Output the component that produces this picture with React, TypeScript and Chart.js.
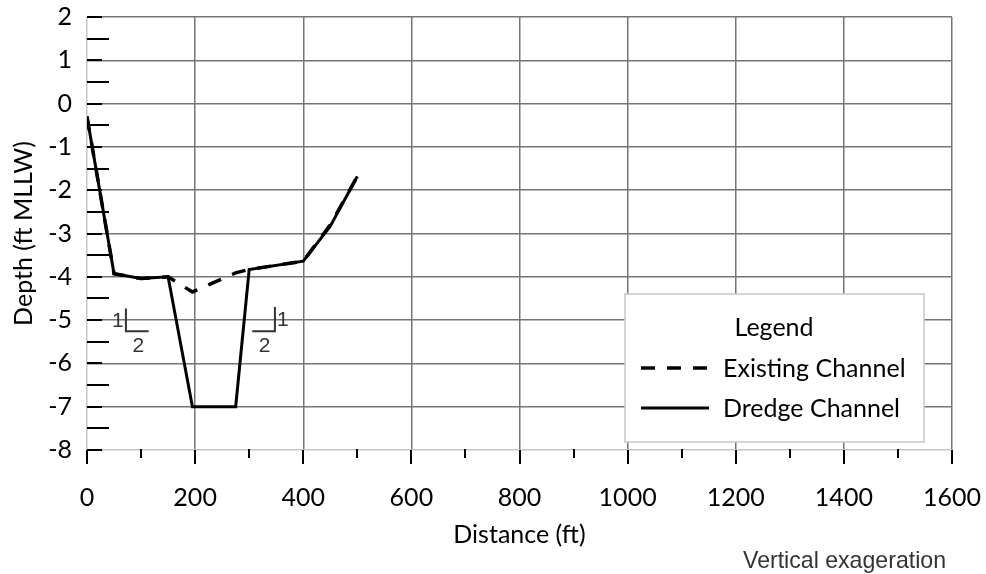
import React, { useEffect, useRef } from "react";
import { Chart, registerables } from "chart.js";

Chart.register(...registerables);

// ---- data ----
const existingDistance = [0, 50, 100, 150, 195, 275, 300, 400, 450, 500];
const existingDepth = [-0.3, -3.93, -4.04, -4.0, -4.35, -3.91, -3.83, -3.64, -2.8, -1.68];
const dredgeDistance = [0, 50, 100, 150, 195, 275, 300, 400, 450, 500];
const dredgeDepth = [-0.3, -3.93, -4.04, -4.0, -7.0, -7.0, -3.83, -3.64, -2.83, -1.68];

const xTicks = [0, 200, 400, 600, 800, 1000, 1200, 1400, 1600];
const yTicks = [-8, -7, -6, -5, -4, -3, -2, -1, 0, 1, 2];

const seriesNames = ["Existing Channel", "Dredge Channel"];
const legendTitle = "Legend";
const xTitle = "Distance (ft)";
const yTitle = "Depth (ft MLLW)";
const footnote = "Vertical exageration";

// slope markers (data coords): corner point, rise top, run end
const slopeMarkers = [
  { cx: 72, cy: -5.26, topY: -4.73, runX: 114, rise: "1", run: "2" },
  { cx: 347.6, cy: -5.26, topY: -4.7, runX: 305.6, rise: "1", run: "2" },
];

const FONT = "Lato, 'Open Sans', sans-serif";
const FS = 25;
const GRID = "#757575";
const GRID_LIGHT = "#c6c6c6";

const overlayPlugin = {
  id: "overlay",
  beforeDatasetsDraw(chart: any) {
    const { ctx } = chart;
    const xs = chart.scales.x;
    const ys = chart.scales.y;
    const area = chart.chartArea;
    ctx.save();
    ctx.strokeStyle = "#000";
    ctx.lineWidth = 2;
    for (let v = yTicks[0]; v <= yTicks[yTicks.length - 1] + 1e-9; v += 0.5) {
      const y = Math.round(ys.getPixelForValue(v));
      const isMajor = Math.abs(v - Math.round(v)) < 1e-9;
      const len = isMajor ? 15 : 22;
      ctx.beginPath();
      ctx.moveTo(area.left, y);
      ctx.lineTo(area.left + len, y);
      ctx.stroke();
    }
    for (let v = xTicks[0]; v <= xTicks[xTicks.length - 1] + 1e-9; v += 100) {
      const x = Math.round(xs.getPixelForValue(v));
      const isMajor = Math.round(v) % 200 === 0;
      ctx.beginPath();
      ctx.moveTo(x, area.bottom - (isMajor ? 0 : 1));
      ctx.lineTo(x, area.bottom + (isMajor ? 14 : 8));
      ctx.stroke();
    }
    ctx.restore();
  },
  afterDatasetsDraw(chart: any) {
    const { ctx } = chart;
    const xs = chart.scales.x;
    const ys = chart.scales.y;
    ctx.save();
    ctx.strokeStyle = "#333";
    ctx.fillStyle = "#333";
    ctx.lineWidth = 2;
    ctx.font = "21px 'Liberation Sans', Arial, sans-serif";
    ctx.textAlign = "center";
    ctx.textBaseline = "middle";
    slopeMarkers.forEach((m) => {
      const cx = xs.getPixelForValue(m.cx);
      const cy = ys.getPixelForValue(m.cy);
      const ty = ys.getPixelForValue(m.topY);
      const rx = xs.getPixelForValue(m.runX);
      ctx.beginPath();
      ctx.moveTo(cx, ty);
      ctx.lineTo(cx, cy);
      ctx.lineTo(rx, cy);
      ctx.stroke();
      const riseSide = rx > cx ? -1 : 1;
      ctx.fillText(m.rise, cx + riseSide * 8, (cy + ty) / 2 + 1);
      ctx.fillText(m.run, (cx + rx) / 2 + 1, cy + 15);
    });

    // legend box
    const bx = 625, by = 294, bw = 299, bh = 148;
    ctx.fillStyle = "#fff";
    ctx.fillRect(bx, by, bw, bh);
    ctx.strokeStyle = "#c8c8c8";
    ctx.lineWidth = 1.5;
    ctx.strokeRect(bx, by, bw, bh);
    ctx.fillStyle = "#000";
    ctx.font = `${FS}px ${FONT}`;
    ctx.textBaseline = "middle";
    ctx.textAlign = "center";
    ctx.fillText(legendTitle, bx + 149, by + 34);
    ctx.textAlign = "left";
    const rows = [
      { y: by + 75, dash: [14, 12], lw: 3.5 },
      { y: by + 115, dash: [], lw: 3 },
    ];
    rows.forEach((r, i) => {
      ctx.strokeStyle = "#000";
      ctx.lineWidth = r.lw;
      ctx.setLineDash(r.dash);
      ctx.beginPath();
      ctx.moveTo(bx + 16, r.y - 1);
      ctx.lineTo(bx + 84, r.y - 1);
      ctx.stroke();
      ctx.setLineDash([]);
      ctx.fillText(seriesNames[i], bx + 98, r.y);
    });

    // footnote
    ctx.fillStyle = "#333";
    ctx.font = "24px 'Liberation Sans', Arial, sans-serif";
    ctx.textAlign = "left";
    ctx.textBaseline = "alphabetic";
    const w = ctx.measureText(footnote).width;
    const sx = 203 / w;
    ctx.translate(743, 568);
    ctx.scale(sx, 1);
    ctx.fillText(footnote, 0, 0);
    ctx.restore();
  },
};

export default function App() {
  const ref = useRef<HTMLCanvasElement | null>(null);

  useEffect(() => {
    if (!ref.current) return;
    const chart = new Chart(ref.current, {
      type: "line",
      data: {
        datasets: [
          {
            label: seriesNames[1],
            data: dredgeDistance.map((x, i) => ({ x, y: dredgeDepth[i] })),
            borderColor: "#000",
            borderWidth: 3,
            pointRadius: 0,
            tension: 0,
            fill: false,
            order: 0,
          },
          {
            label: seriesNames[0],
            data: existingDistance.map((x, i) => ({ x, y: existingDepth[i] })),
            borderColor: "#000",
            borderWidth: 3.5,
            borderDash: [14, 12],
            pointRadius: 0,
            tension: 0,
            fill: false,
            order: 1,
          },
        ],
      },
      options: {
        responsive: false,
        animation: false,
        devicePixelRatio: 1,
        layout: { padding: { top: 17, right: 34, left: 0, bottom: 0 } },
        plugins: { legend: { display: false }, tooltip: { enabled: false } },
        scales: {
          x: {
            type: "linear",
            min: xTicks[0],
            max: xTicks[xTicks.length - 1],
            afterBuildTicks: (s: any) => {
              s.ticks = xTicks.map((v) => ({ value: v }));
            },
            afterFit: (s: any) => {
              s.height = 124;
              s.paddingLeft = 0;
              s.paddingRight = 0;
            },
            ticks: {
              color: "#000",
              font: { family: FONT, size: FS },
              padding: 33,
              maxRotation: 0,
              callback: (v: any) => String(v),
            },
            grid: {
              drawTicks: false,
              lineWidth: 1.5,
              color: (c: any) => (c.tick && c.tick.value === xTicks[0] ? GRID_LIGHT : GRID),
            },
            border: { display: false },
            title: {
              display: true,
              text: xTitle,
              color: "#000",
              font: { family: FONT, size: FS },
              padding: { top: 0, bottom: 24 },
            },
          },
          y: {
            type: "linear",
            min: yTicks[0],
            max: yTicks[yTicks.length - 1],
            afterBuildTicks: (s: any) => {
              s.ticks = yTicks.map((v) => ({ value: v }));
            },
            afterFit: (s: any) => {
              s.width = 87;
              s.paddingTop = 0;
              s.paddingBottom = 0;
            },
            ticks: {
              color: "#000",
              font: { family: FONT, size: FS },
              padding: 15,
              callback: (v: any) => String(v),
            },
            grid: {
              drawTicks: false,
              lineWidth: 1.5,
              color: (c: any) => (c.tick && c.tick.value === yTicks[0] ? GRID_LIGHT : GRID),
            },
            border: { display: false },
            title: {
              display: true,
              text: yTitle,
              color: "#000",
              font: { family: FONT, size: FS },
              padding: { top: 9, bottom: 0 },
            },
          },
        },
      },
      plugins: [overlayPlugin],
    });
    return () => chart.destroy();
  }, []);

  return (
    <div style={{ position: "fixed", left: 0, top: 0, width: 986, height: 574, background: "#fff" }}>
      <canvas ref={ref} width={986} height={574} style={{ width: 986, height: 574, display: "block" }} />
    </div>
  );
}
